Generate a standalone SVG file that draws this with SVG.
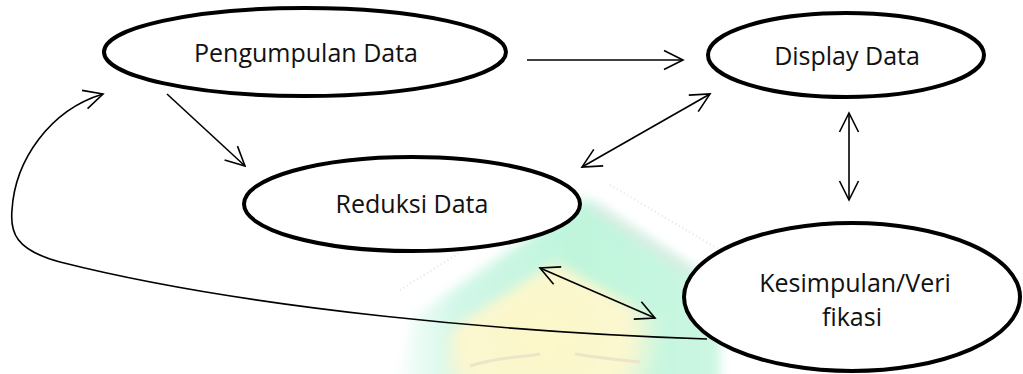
<svg xmlns="http://www.w3.org/2000/svg" width="1023" height="374" viewBox="0 0 1023 374">
<style>
.node{fill:#fff;stroke:#000;stroke-width:4}
.lbl{font-family:"Open Sans","Noto Sans","Liberation Sans",sans-serif;font-size:25px;fill:#111;text-anchor:middle}
.edge{fill:none;stroke:#000;stroke-width:1.6}
</style>
<defs>
<marker id="ah" viewBox="0 0 22 22" refX="20" refY="11" markerWidth="22" markerHeight="22" markerUnits="userSpaceOnUse" orient="auto-start-reverse">
<path d="M1,1.5 L20,11 L1,20.5" fill="none" stroke="#000" stroke-width="1.6"/>
</marker>
<linearGradient id="wm" x1="390" y1="0" x2="720" y2="0" gradientUnits="userSpaceOnUse">
<stop offset="0" stop-color="#ffffff"/>
<stop offset="0.2" stop-color="#d2f7e8"/>
<stop offset="0.55" stop-color="#bff5dc"/>
<stop offset="1" stop-color="#cbf6e2"/>
</linearGradient>
<radialGradient id="yl" cx="545" cy="335" r="120" gradientUnits="userSpaceOnUse">
<stop offset="0" stop-color="#fcf8c8"/>
<stop offset="0.7" stop-color="#fbf7d0"/>
<stop offset="1" stop-color="#fbf8d8" stop-opacity="0"/>
</radialGradient>
<filter id="soft" x="-20%" y="-20%" width="140%" height="140%">
<feGaussianBlur stdDeviation="6"/>
</filter>
</defs>
<g id="watermark">
<polygon points="585,198 720,285 720,390 395,390 412,318" fill="url(#wm)" filter="url(#soft)"/>
<polygon points="555,262 685,335 685,390 440,390 450,330" fill="url(#yl)" filter="url(#soft)"/>
<line x1="592" y1="205" x2="690" y2="272" stroke="#e2e2e2" stroke-width="5" filter="url(#soft)"/>
<polyline points="400,290 560,190" fill="none" stroke="#e4e4e4" stroke-width="2" stroke-dasharray="1,3"/>
<polyline points="610,185 720,250" fill="none" stroke="#e4e4e4" stroke-width="2" stroke-dasharray="1,3"/>
<path d="M470,366 C500,356 520,358 540,354 M575,354 C600,358 620,360 640,362" fill="none" stroke="#ebe6c8" stroke-width="3"/>
</g>
<g id="connectors">
<line class="edge" x1="527" y1="60" x2="683" y2="60" marker-end="url(#ah)"/>
<line class="edge" x1="167" y1="94" x2="245" y2="166" marker-end="url(#ah)"/>
<line class="edge" x1="710" y1="94" x2="582" y2="167" marker-start="url(#ah)" marker-end="url(#ah)"/>
<line class="edge" x1="849" y1="113" x2="849" y2="200" marker-start="url(#ah)" marker-end="url(#ah)"/>
<line class="edge" x1="540" y1="268" x2="655" y2="318" marker-start="url(#ah)" marker-end="url(#ah)"/>
<path class="edge" d="M707,339 C520,333 250,310 60,262 C15,250 10,232 12,210 C15,160 50,110 103,94" marker-end="url(#ah)"/>
</g>
<g id="pengumpulan">
<ellipse class="node" cx="305" cy="52" rx="201" ry="44"/>
<text class="lbl" x="306" y="62">Pengumpulan Data</text>
</g>
<g id="display">
<ellipse class="node" cx="846" cy="55" rx="138" ry="42"/>
<text class="lbl" x="847" y="65">Display Data</text>
</g>
<g id="reduksi">
<ellipse class="node" cx="412" cy="204" rx="168" ry="47"/>
<text class="lbl" x="412" y="213">Reduksi Data</text>
</g>
<g id="kesimpulan">
<ellipse class="node" cx="852" cy="297" rx="168" ry="74"/>
<text class="lbl" x="855" y="292">Kesimpulan/Veri</text>
<text class="lbl" x="852" y="326">fikasi</text>
</g>
</svg>
